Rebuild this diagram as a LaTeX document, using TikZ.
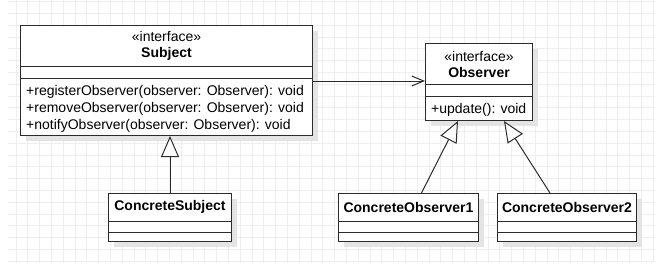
\documentclass[tikz,border=0pt]{standalone}
\usepackage{fontspec}
\setmainfont{Liberation Sans}
\usepackage{tikz}
\usetikzlibrary{calc,arrows.meta,positioning,shadows}
\definecolor{linec}{HTML}{2B2B2B}
\definecolor{gridc}{HTML}{EEEEEE}
\definecolor{shadc}{HTML}{E4E4E4}
\tikzset{
  cls/.style={draw=linec,line width=1pt,fill=white,anchor=north west,inner sep=0pt,
    drop shadow={shadow xshift=5pt,shadow yshift=-5pt,fill=shadc,opacity=1}},
  ttl/.style={align=center,font=\fontsize{14}{16}\selectfont,inner sep=0pt},
  ops/.style={align=left,font=\fontsize{14}{17}\selectfont,anchor=north west,inner sep=0pt},
  sep/.style={linec,line width=1pt},
  as/.style={-{Straight Barb[length=12pt,width=10pt]},linec,line width=1pt},
  gen/.style={-{Triangle[open,fill=white,length=21pt,width=18pt]},linec,line width=1pt}
}

\begin{document}
\begin{tikzpicture}[x=1pt,y=-1pt]
\useasboundingbox (0,0) rectangle (670,265);
% background grid
\foreach \i in {1,...,55}{\draw[gridc] ({3.9+11.8*\i},0) -- ++(0,262);}
\foreach \j in {0,...,22}{\draw[gridc] (8,{1.4+11.8*\j}) -- ++(647,0);}

% classes
\node[cls,minimum width=292pt,minimum height=110pt] (sub) at (20,25) {};
\node[cls,minimum width=107pt,minimum height=77pt] (obs) at (425,43) {};
\node[cls,minimum width=123pt,minimum height=48pt] (cs) at (108,193) {};
\node[cls,minimum width=140pt,minimum height=48pt] (co1) at (338,193) {};
\node[cls,minimum width=139pt,minimum height=48pt] (co2) at (497,193) {};

% compartments
\foreach \n/\a/\b in {sub/41/53,obs/41/53,cs/28/39,co1/28/39,co2/28/39}{
  \draw[sep] ($(\n.north west)+(0,\a)$) -- ($(\n.north east)+(0,\a)$);
  \draw[sep] ($(\n.north west)+(0,\b)$) -- ($(\n.north east)+(0,\b)$);
}

% names
\node[ttl] (subT) at ($(sub.north)+(0,21)$) {«interface»\\\textbf{Subject}};
\node[ttl] (obsT) at ($(obs.north)+(0,21)$) {«interface»\\\textbf{Observer}};
\node[ttl] (csT) at ($(cs.north)+(0,14)$) {\textbf{ConcreteSubject}};
\node[ttl] (co1T) at ($(co1.north)+(0,14)$) {\textbf{ConcreteObserver1}};
\node[ttl] (co2T) at ($(co2.north)+(0,14)$) {\textbf{ConcreteObserver2}};

% operations
\node[ops] (subM) at ($(sub.north west)+(6,60)$) {+registerObserver(observer: Observer): void\\
  +removeObserver(observer: Observer): void\\
  +notifyObserver(observer: Observer): void};
\node[ops] (obsM) at ($(obs.north west)+(6,60)$) {+update(): void};

% relations
\coordinate (asA) at ($(sub.north east)+(0,56)$);
\draw[as] (asA) -- (obs.west |- asA);
\draw[gen] (cs.north) -- (cs.north |- sub.south);
\draw[gen] ($(co1.north)+(13,0)$) -- ($(obs.south)+(-21,0)$);
\draw[gen] ($(co2.north)+(-17,0)$) -- ($(obs.south)+(25,0)$);
\end{tikzpicture}
\end{document}
